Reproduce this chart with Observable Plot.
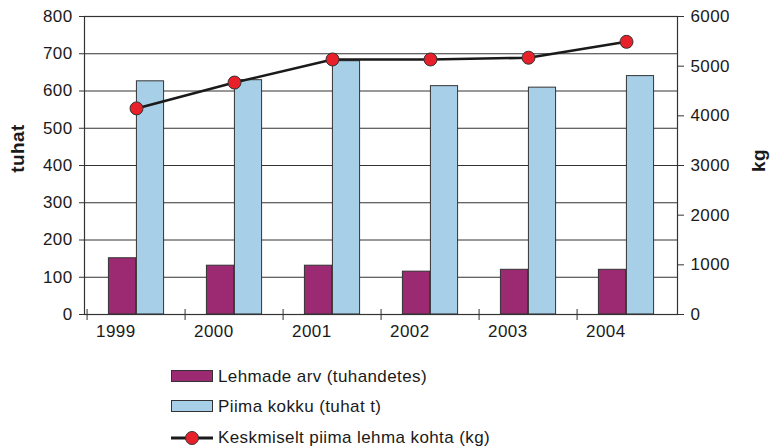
<!DOCTYPE html>
<html><head><meta charset="utf-8">
<script src="https://cdn.jsdelivr.net/npm/d3@7"></script>
<script src="https://cdn.jsdelivr.net/npm/@observablehq/plot@0.6"></script>
<style>
body{margin:0;background:#fff;font-family:"Liberation Sans",Arial,sans-serif;}
#wrap{position:relative;width:771px;height:447px;background:#fff;}
#chart{position:absolute;left:0;top:0;}
.row{position:absolute;left:0;height:20px;width:771px;}
.sw{position:absolute;left:171px;top:3px;width:40px;height:10px;border:1px solid #333;}
.lt{position:absolute;left:218px;top:0;font-size:17px;line-height:20px;letter-spacing:0.4px;color:#1a1a1a;white-space:nowrap;}
</style></head><body><div id="wrap"><div id="chart"></div></div>
<script>
const years = ["1999","2000","2001","2002","2003","2004"];
const cows = [151, 131, 131, 115, 120, 120];          // Lehmade arv (tuhandetes)
const milk = [626, 629, 680, 613, 609, 640];          // Piima kokku (tuhat t)
const kgPerCow = [4150, 4670, 5135, 5135, 5170, 5490]; // Keskmiselt piima lehma kohta (kg)
const leftTicks = [0,100,200,300,400,500,600,700,800];
const rightTicks = [0,1000,2000,3000,4000,5000,6000];
const seriesNames = ["Lehmade arv (tuhandetes)","Piima kokku (tuhat t)","Keskmiselt piima lehma kohta (kg)"];
const colors = ["#9c2a72","#a8cfe8","#e8202a"];

const data = years.map((y,i)=>({year:y,cows:cows[i],milk:milk[i],kg:kgPerCow[i]}));
const K = 800/6000;
const W=771,H=340, ml=84, mr=94, mt=16, mb=26;
const bw = (W-ml-mr)/years.length;
const barW = 28;
const font = '"Liberation Sans", Arial, sans-serif';

const chart = Plot.plot({
  width:W, height:H, marginLeft:ml, marginRight:mr, marginTop:mt, marginBottom:mb,
  style:{fontFamily:font, fontSize:"17px", color:"#1a1a1a", letterSpacing:"0.4px", background:"#fff", overflow:"visible"},
  x:{domain:years, padding:0},
  y:{domain:[0,800]},
  marks:[
    Plot.gridY(leftTicks.slice(1),{stroke:"#333",strokeOpacity:1,strokeWidth:1}),
    Plot.barY(data,{x:"year",y:"cows",fill:colors[0],stroke:"#333",strokeWidth:1,insetLeft:bw/2-barW,insetRight:bw/2}),
    Plot.barY(data,{x:"year",y:"milk",fill:colors[1],stroke:"#333",strokeWidth:1,insetLeft:bw/2,insetRight:bw/2-barW}),
    Plot.frame({stroke:"#333",strokeWidth:1.2}),
    Plot.ruleX(years,{x:d=>d,y1:0,y2:0,insetTop:-5,insetBottom:-6,dx:-bw/2,stroke:"#333"}),
    Plot.axisY(leftTicks,{anchor:"left",tickSize:5,tickPadding:7,label:null,stroke:"#333"}),
    Plot.axisY(rightTicks.map(v=>v*K),{anchor:"right",tickSize:6,tickPadding:7,label:null,stroke:"#333",tickFormat:d=>String(Math.round(d/K))}),
    Plot.axisX({tickSize:0,tickPadding:10,textAnchor:"end",dx:-1,label:null}),
    Plot.line(data,{x:"year",y:d=>d.kg*K,stroke:"#1a1a1a",strokeWidth:2.6}),
    Plot.dot(data,{x:"year",y:d=>d.kg*K,r:6.5,fill:colors[2],stroke:"#333",strokeWidth:1}),
    Plot.text(["tuhat"],{text:d=>d,frameAnchor:"left",textAnchor:"middle",dx:-67,dy:-17,rotate:-90,fontWeight:"bold",fontSize:19,fill:"#1a1a1a"}),
    Plot.text(["kg"],{text:d=>d,frameAnchor:"right",textAnchor:"middle",dx:81,dy:-5,rotate:-90,fontWeight:"bold",fontSize:19,fill:"#1a1a1a"})
  ]
});
document.getElementById("chart").appendChild(chart);

const wrap = document.getElementById("wrap");
const rowTops = [366.5, 397, 428];
seriesNames.forEach((name,i)=>{
  const row = document.createElement("div");
  row.className="row";
  row.style.top = (rowTops[i]) + "px";
  if (i < 2) {
    const sw = document.createElement("div");
    sw.className="sw";
    sw.style.background = colors[i];
    row.appendChild(sw);
  } else {
    const ns="http://www.w3.org/2000/svg";
    const s = document.createElementNS(ns,"svg");
    s.setAttribute("width","44"); s.setAttribute("height","20");
    s.style.position="absolute"; s.style.left="170px"; s.style.top="0px";
    const l = document.createElementNS(ns,"line");
    l.setAttribute("x1","1"); l.setAttribute("x2","43"); l.setAttribute("y1","10"); l.setAttribute("y2","10");
    l.setAttribute("stroke","#1a1a1a"); l.setAttribute("stroke-width","3");
    const c = document.createElementNS(ns,"circle");
    c.setAttribute("cx","22"); c.setAttribute("cy","10"); c.setAttribute("r","6.5");
    c.setAttribute("fill",colors[2]); c.setAttribute("stroke","#333");
    s.appendChild(l); s.appendChild(c);
    row.appendChild(s);
  }
  const t = document.createElement("div");
  t.className="lt"; t.textContent = name;
  row.appendChild(t);
  wrap.appendChild(row);
});
</script></body></html>
